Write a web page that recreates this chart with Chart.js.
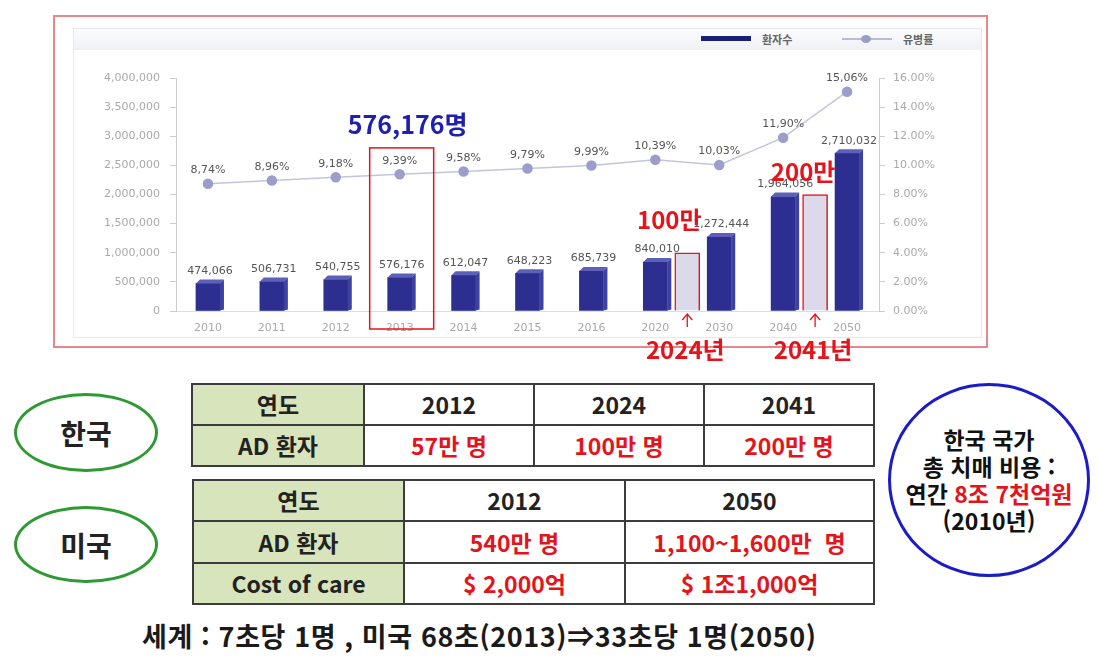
<!DOCTYPE html>
<html lang="ko">
<head>
<meta charset="utf-8">
<title>치매 환자수 추이</title>
<script src="https://cdn.jsdelivr.net/npm/chart.js@4/dist/chart.umd.min.js"></script>
<style>
	body { margin: 0; background: #fff; font-family: "Noto Sans CJK KR", sans-serif; }
	#page { position: relative; width: 1100px; height: 666px; overflow: hidden; }
	.abs { position: absolute; }
	#frame { left: 53px; top: 15px; width: 931px; height: 329px; border: 2px solid #e8868a; }
	#panel { left: 73px; top: 28px; width: 907px; height: 308px; border: 1px solid #e6e8ea; }
	#panel .band { height: 21px; background: linear-gradient(#fbfcfd, #eef1f4); }
	#chart { left: 53px; top: 15px; }
	.lg-text { font-size: 11px; color: #666; font-weight: 700; top: 31px; }
	table { position: absolute; border-collapse: collapse; table-layout: fixed; }
	td { border: 2px solid #3c3c3c; text-align: center; font-weight: 700; font-size: 23px; color: #222; padding: 0; line-height: 1; }
	td.head { background: #d8e4bc; }
	td.red { color: #e3141c; }
	.oval { border: 3px solid #2f9a35; border-radius: 50%; box-sizing: border-box; display: flex; align-items: center; justify-content: center; font-weight: 700; font-size: 28px; color: #222; }
	#cost { left: 888px; top: 383px; width: 202px; height: 194px; border: 3px solid #1c1cc4; border-radius: 50%; box-sizing: border-box; display: flex; flex-direction: column; justify-content: center; align-items: center; font-weight: 700; font-size: 23px; line-height: 27px; color: #111; white-space: nowrap; }
	#cost .red { color: #e3141c; }
	#foot { left: 142px; top: 619px; font-weight: 700; font-size: 27px; letter-spacing: 0.6px; line-height: 34px; color: #1a1a1a; white-space: nowrap; }
</style>
</head>
<body>
<div id="page">
	<div id="frame" class="abs"></div>
	<div id="panel" class="abs"><div class="band"></div></div>

	<!-- legend -->
	<div class="abs" style="left:701px;top:36px;width:50px;height:5px;background:#1c1f7a;"></div>
	<div class="abs lg-text" style="left:762px;">환자수</div>
	<div class="abs" style="left:842px;top:38px;width:50px;height:2px;background:#b9b9d8;"></div>
	<div class="abs" style="left:861px;top:35px;width:10px;height:8px;border-radius:50%;background:#9d9dcc;"></div>
	<div class="abs lg-text" style="left:903px;">유병률</div>

	<canvas id="chart" class="abs" width="940" height="350"></canvas>

	<div class="abs oval" style="left:14px;top:393px;width:144px;height:79px;">한국</div>
	<div class="abs oval" style="left:14px;top:506px;width:144px;height:77px;">미국</div>

	<table style="left:191px;top:383px;">
		<colgroup><col style="width:172px"><col style="width:170px"><col style="width:170px"><col style="width:170px"></colgroup>
		<tr style="height:41px"><td class="head">연도</td><td>2012</td><td>2024</td><td>2041</td></tr>
		<tr style="height:41px"><td class="head">AD 환자</td><td class="red">57만 명</td><td class="red">100만 명</td><td class="red">200만 명</td></tr>
	</table>

	<table style="left:192px;top:479px;">
		<colgroup><col style="width:211px"><col style="width:221px"><col style="width:249px"></colgroup>
		<tr style="height:41px"><td class="head">연도</td><td>2012</td><td>2050</td></tr>
		<tr style="height:42px"><td class="head">AD 환자</td><td class="red">540만 명</td><td class="red">1,100~1,600만&nbsp; 명</td></tr>
		<tr style="height:41px"><td class="head">Cost of care</td><td class="red">$ 2,000억</td><td class="red">$ 1조1,000억</td></tr>
	</table>

	<div id="cost" class="abs">
		<div>한국 국가</div>
		<div>총 치매 비용 :</div>
		<div>연간 <span class="red">8조 7천억원</span></div>
		<div>(2010년)</div>
	</div>

	<div id="foot" class="abs">세계 : 7초당 1명 , 미국 68초(2013)⇒33초당 1명(2050)</div>
</div>

<script>
/* chart data */
var years = ['2010', '2011', '2012', '2013', '2014', '2015', '2016', '2020', '2030', '2040', '2050'];
var patients = [474066, 506731, 540755, 576176, 612047, 648223, 685739, 840010, 1272444, 1964056, 2710032];
var rates = [8.74, 8.96, 9.18, 9.39, 9.58, 9.79, 9.99, 10.39, 10.03, 11.90, 15.06];

/* highlighted forecast years, placed between the categories */
var markLabels = ['2024년', '2041년'];
var markTexts = ['100만', '200만'];
var markPos = [7.5, 9.5];
var markValues = [1000000, 2000000];

var leftMax = 4000000, leftStep = 500000;
var rightMax = 16, rightStep = 2;

var RED = '#e3141c';

function fmt(n) {
	return n.toLocaleString('en-US');
}

/** Draw the 3D faces and value labels of the bars, and the rate labels. */
var labels = {
	id: 'labels',
	afterDatasetDraw: function (chart, args) {
		var ctx = chart.ctx;
		var meta = args.meta;
		ctx.save();
		if (args.index === 0) {
			var d = 4;
			meta.data.forEach(function (bar, i) {
				var p = bar.getProps(['x', 'y', 'base', 'width'], true);
				var l = p.x - p.width / 2, r = p.x + p.width / 2;
				ctx.fillStyle = '#5d5fb8';
				ctx.beginPath();
				ctx.moveTo(l, p.y); ctx.lineTo(l + d, p.y - d); ctx.lineTo(r + d, p.y - d); ctx.lineTo(r, p.y);
				ctx.closePath(); ctx.fill();
				ctx.fillStyle = '#3f41a0';
				ctx.beginPath();
				ctx.moveTo(r, p.y); ctx.lineTo(r + d, p.y - d); ctx.lineTo(r + d, p.base - 1); ctx.lineTo(r, p.base);
				ctx.closePath(); ctx.fill();

				ctx.fillStyle = '#555';
				ctx.font = '11px "DejaVu Sans"';
				ctx.textAlign = 'center';
				ctx.textBaseline = 'bottom';
				ctx.fillText(fmt(patients[i]), p.x + 2, p.y - 7);
			});
		} else if (args.index === 2) {
			meta.data.forEach(function (pt, i) {
				ctx.fillStyle = '#555';
				ctx.font = '11px "DejaVu Sans"';
				ctx.textAlign = 'center';
				ctx.textBaseline = 'bottom';
				ctx.fillText(rates[i].toFixed(2).replace('.', ',') + '%', pt.x, pt.y - 8);
			});
		}
		ctx.restore();
	},

	afterDatasetsDraw: function (chart) {
		var ctx = chart.ctx, x = chart.scales.x, y = chart.scales.y, area = chart.chartArea;
		ctx.save();

		// box round 2013
		var cx = x.getPixelForValue(3);
		var boxTop = y.getPixelForValue(2800000);
		ctx.strokeStyle = RED;
		ctx.lineWidth = 1.5;
		ctx.strokeRect(cx - 30, boxTop, 64, area.bottom + 18 - boxTop);

		ctx.font = 'bold 25px "Noto Sans CJK KR"';
		ctx.textAlign = 'center';
		ctx.textBaseline = 'middle';
		ctx.fillStyle = '#2020b0';
		ctx.fillText(fmt(patients[3]) + '명', cx + 8, y.getPixelForValue(3200000));

		// forecast marks: text anchors sit a little above each highlighted bar
		var textAt = [1560000, 2390000];
		var textShift = [-18, -12];
		markPos.forEach(function (pos, i) {
			var px = x.getPixelForValue(pos);
			ctx.fillStyle = RED;
			ctx.font = 'bold 24px "Noto Sans CJK KR"';
			ctx.fillText(markTexts[i], px + textShift[i], y.getPixelForValue(textAt[i]));
			ctx.fillText(markLabels[i], px - 2, area.bottom + 39);

			ctx.strokeStyle = RED;
			ctx.lineWidth = 1.3;
			ctx.beginPath();
			ctx.moveTo(px, area.bottom + 16); ctx.lineTo(px, area.bottom + 3);
			ctx.moveTo(px - 5, area.bottom + 9); ctx.lineTo(px, area.bottom + 3); ctx.lineTo(px + 5, area.bottom + 9);
			ctx.stroke();
		});
		ctx.restore();
	}
};

Chart.defaults.font.family = '"DejaVu Sans"';
Chart.defaults.font.size = 11;

new Chart(document.getElementById('chart'), {
	type: 'bar',
	data: {
		datasets: [{
			label: '환자수',
			data: patients.map(function (v, i) { return { x: i, y: v }; }),
			backgroundColor: '#2c2f8f',
			barThickness: 24,
			grouped: false,
			order: 3,
			yAxisID: 'y'
		}, {
			label: '예측',
			data: markValues.map(function (v, i) { return { x: markPos[i], y: v }; }),
			backgroundColor: '#dcd9ea',
			borderColor: RED,
			borderWidth: 1.5,
			barThickness: 25,
			grouped: false,
			order: 2,
			yAxisID: 'y'
		}, {
			type: 'line',
			label: '유병률',
			data: rates.map(function (v, i) { return { x: i, y: v }; }),
			borderColor: '#c4c4de',
			borderWidth: 1.5,
			pointBackgroundColor: '#9d9dcc',
			pointBorderColor: '#9d9dcc',
			pointRadius: 4.5,
			tension: 0,
			order: 1,
			yAxisID: 'y1'
		}]
	},
	options: {
		responsive: false,
		animation: false,
		layout: { padding: { top: 63, bottom: 34, left: 0, right: 0 } },
		plugins: { legend: { display: false }, tooltip: { enabled: false } },
		scales: {
			x: {
				type: 'linear',
				min: -0.5,
				max: 10.5,
				offset: false,
				afterBuildTicks: function (s) { s.ticks = years.map(function (_, i) { return { value: i }; }); },
				afterFit: function (s) { s.height = 20; },
				grid: { display: false },
				border: { color: '#ddd' },
				ticks: {
					autoSkip: false, maxRotation: 0, padding: 3, color: '#aaa',
					callback: function (v) { return years[v]; }
				}
			},
			y: {
				position: 'left',
				min: 0,
				max: leftMax,
				afterFit: function (s) { s.width = 123; },
				grid: { drawOnChartArea: false, tickLength: 6, color: '#ccc' },
				border: { color: '#ccc' },
				ticks: { stepSize: leftStep, padding: 10, color: '#aaa', callback: function (v) { return fmt(v); } }
			},
			y1: {
				position: 'right',
				min: 0,
				max: rightMax,
				afterFit: function (s) { s.width = 114; },
				grid: { drawOnChartArea: false, tickLength: 6, color: '#ccc' },
				border: { color: '#ccc' },
				ticks: { stepSize: rightStep, padding: 8, color: '#aaa', callback: function (v) { return v.toFixed(2) + '%'; } }
			}
		}
	},
	plugins: [labels]
});
</script>
</body>
</html>
